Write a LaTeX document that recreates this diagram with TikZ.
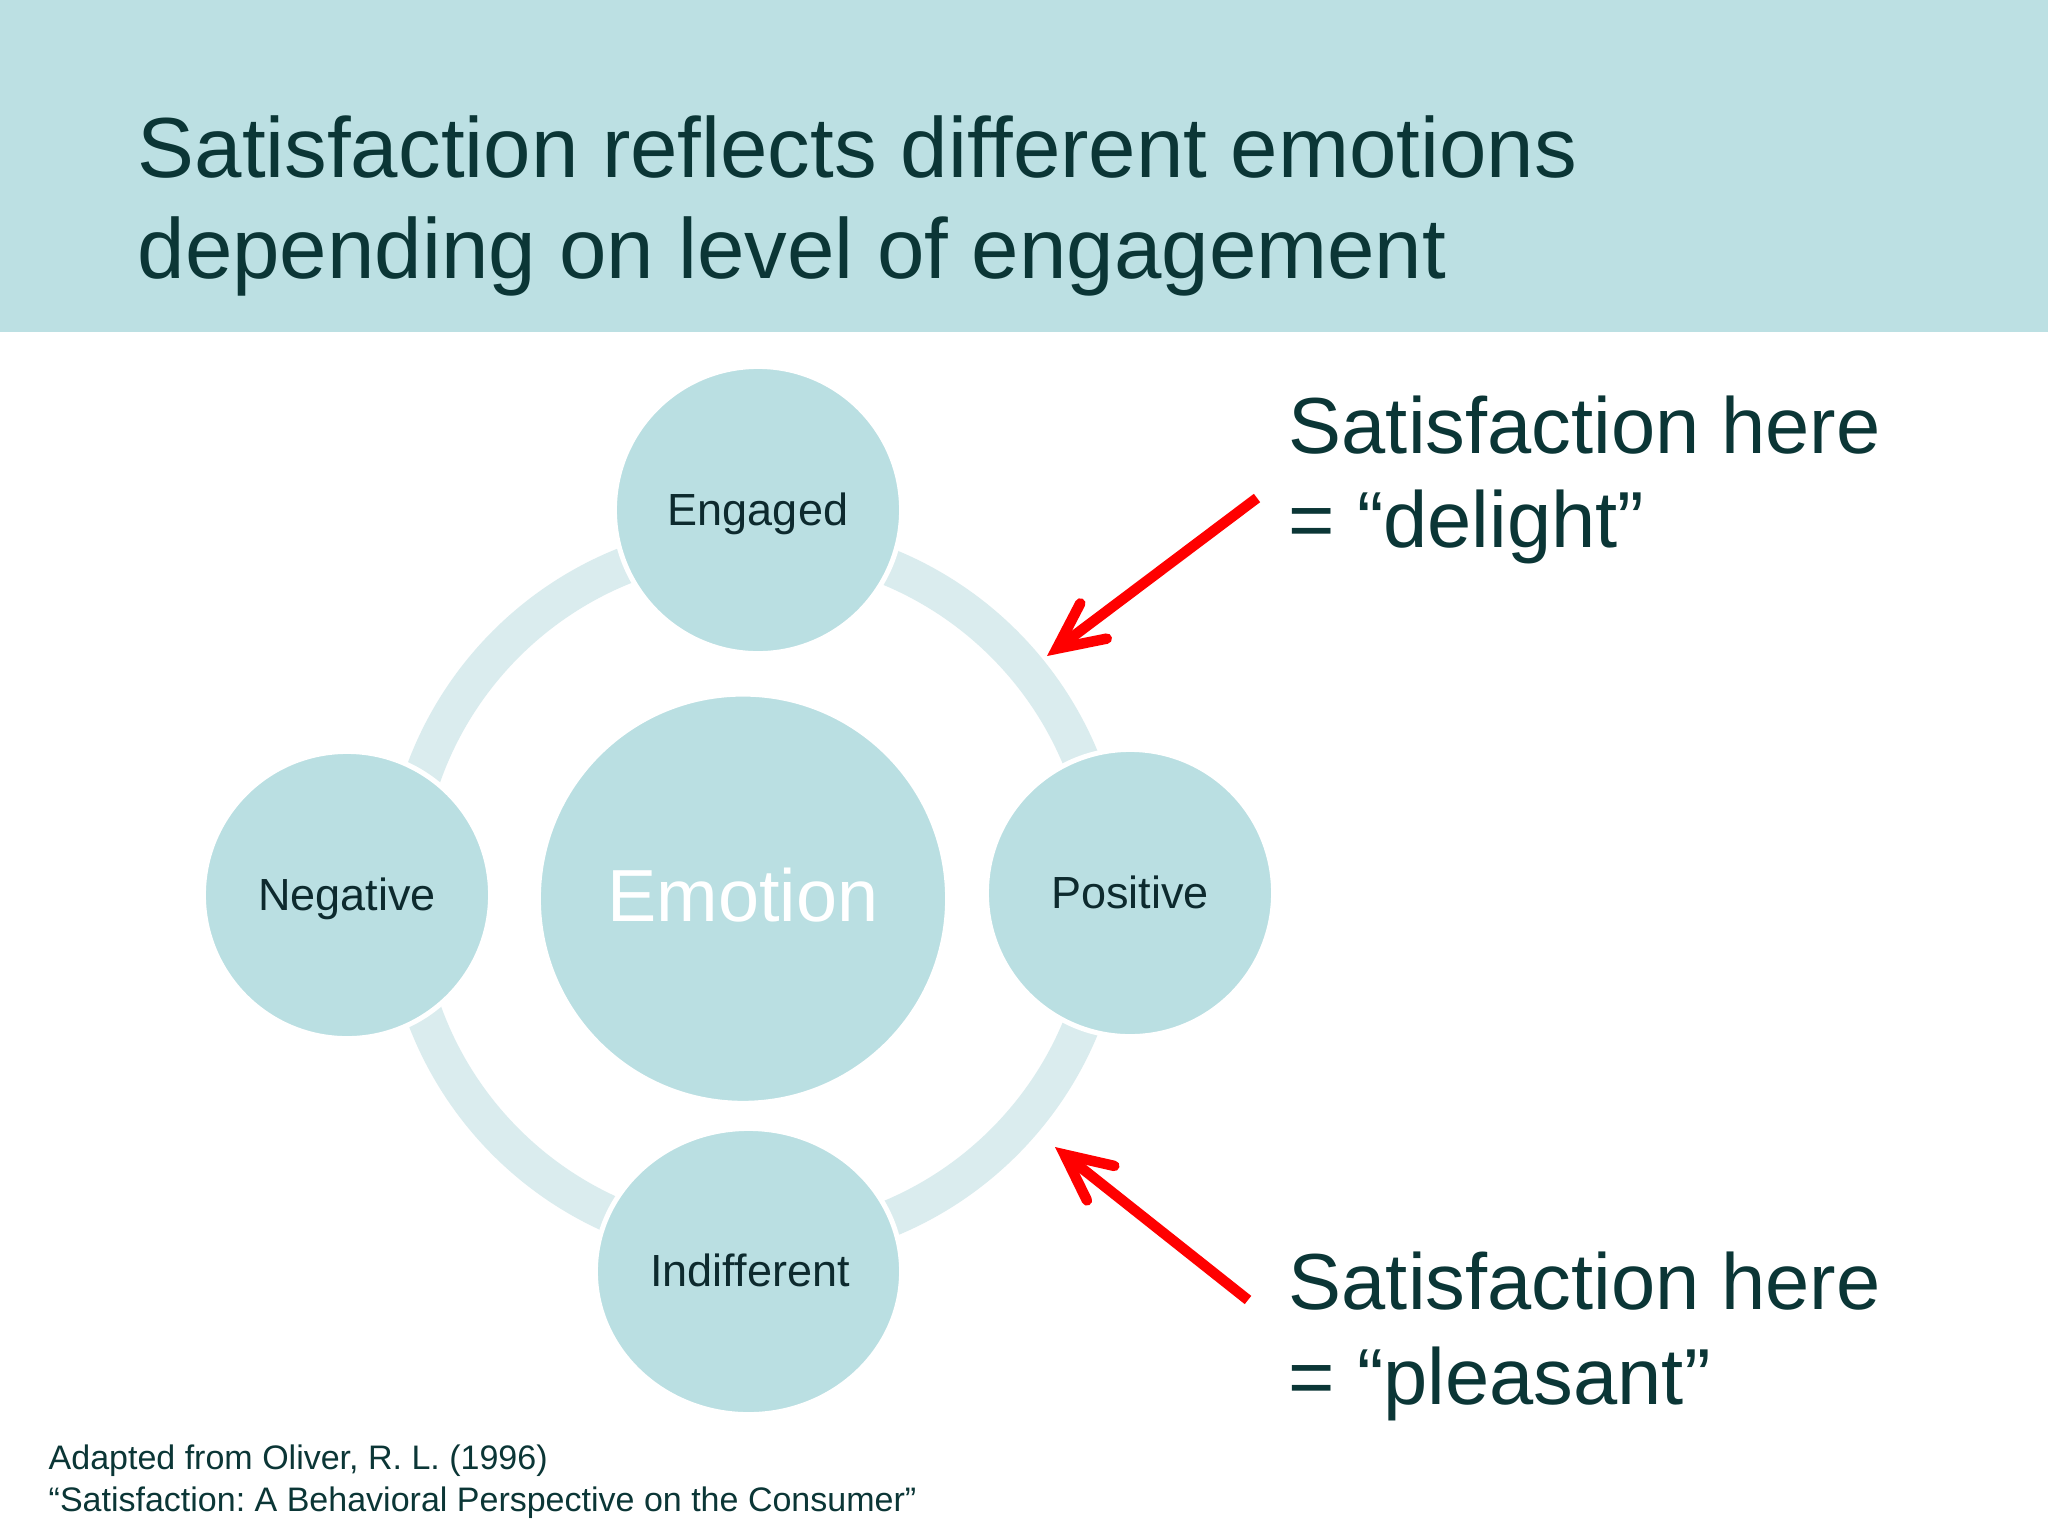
\documentclass[tikz,border=0pt]{standalone}
\usepackage{fontspec}
\setmainfont{Liberation Sans}
\usetikzlibrary{arrows.meta,shapes.geometric}
\definecolor{hdr}{HTML}{BCE0E3}
\definecolor{bub}{HTML}{BADFE2}
\definecolor{ringc}{HTML}{DAECEE}
\definecolor{ttl}{HTML}{0B3636}
\definecolor{lblc}{HTML}{0D2A2E}
\definecolor{arr}{HTML}{FF0000}
\frenchspacing
\begin{document}
\begin{tikzpicture}[x=0.01cm,y=-0.01cm,
  bubble/.style={circle, fill=bub, draw=white, line width=0.05cm, inner sep=0pt, minimum size=2.87cm},
  lbl/.style={anchor=base, inner sep=0pt, text=lblc, font=\fontsize{12.8pt}{15pt}\selectfont},
  ttltext/.style={anchor=base west, inner sep=0pt, text=ttl, font=\fontsize{24.25pt}{29pt}\selectfont},
  sidetext/.style={anchor=base west, inner sep=0pt, text=ttl, font=\fontsize{22.6pt}{27pt}\selectfont},
  foottext/.style={anchor=base west, inner sep=0pt, text=ttl, font=\fontsize{9.67pt}{12pt}\selectfont},
  redarrow/.style={draw=arr, line width=0.105cm, line cap=butt,
    -{Straight Barb[length=0.46cm, width=0.44cm, line cap=round, line join=miter]}}
]
\useasboundingbox (0,0) rectangle (2048,1536);
\fill[white] (0,0) rectangle (2048,1536);
\fill[hdr] (0,0) rectangle (2048,332);

% title
\node[ttltext] (title1) at (137,177) {Satisfaction reflects different emotions};
\node[ttltext] (title2) at (137,278) {depending on level of engagement};

% ring
\draw[ringc, line width=0.37cm] (755,893) circle[radius=3.52cm];

% bubbles
\node[bubble, minimum size=4.09cm] (emo) at (743,898.7) {};
\node[bubble] (eng) at (758,510) {};
\node[bubble] (neg) at (347,895) {};
\node[bubble] (pos) at (1130,893) {};
\node[ellipse, fill=bub, draw=white, line width=0.05cm, inner sep=0pt,
      minimum width=3.06cm, minimum height=2.86cm] (ind) at (748.5,1271.5) {};

% labels
\node[lbl] (engt) at (758,525) {Engaged};
\node[lbl] (negt) at (347,910) {Negative};
\node[lbl] (post) at (1130,908) {Positive};
\node[lbl] (indt) at (750,1286) {Indifferent};
\node[lbl, text=white, font=\fontsize{21pt}{24pt}\selectfont] (emot) at (743,921.7) {Emotion};

% side texts
\node[sidetext] (s1a) at (1288,453) {Satisfaction here};
\node[sidetext] (s1b) at (1288,547) {= “delight”};
\node[sidetext] (s2a) at (1288,1309) {Satisfaction here};
\node[sidetext] (s2b) at (1288,1404) {= “pleasant”};

% arrows
\coordinate (a1s) at (1257,498);
\coordinate (a1e) at (1047,656);
\coordinate (a2s) at (1248,1300);
\coordinate (a2e) at (1055,1147);
\draw[redarrow] (a1s) -- (a1e);
\draw[redarrow] (a2s) -- (a2e);

% footnote
\node[foottext] (f1) at (48,1469) {Adapted from Oliver, R. L. (1996)};
\node[foottext] (f2) at (48,1511) {“Satisfaction: A Behavioral Perspective on the Consumer”};
\end{tikzpicture}
\end{document}
